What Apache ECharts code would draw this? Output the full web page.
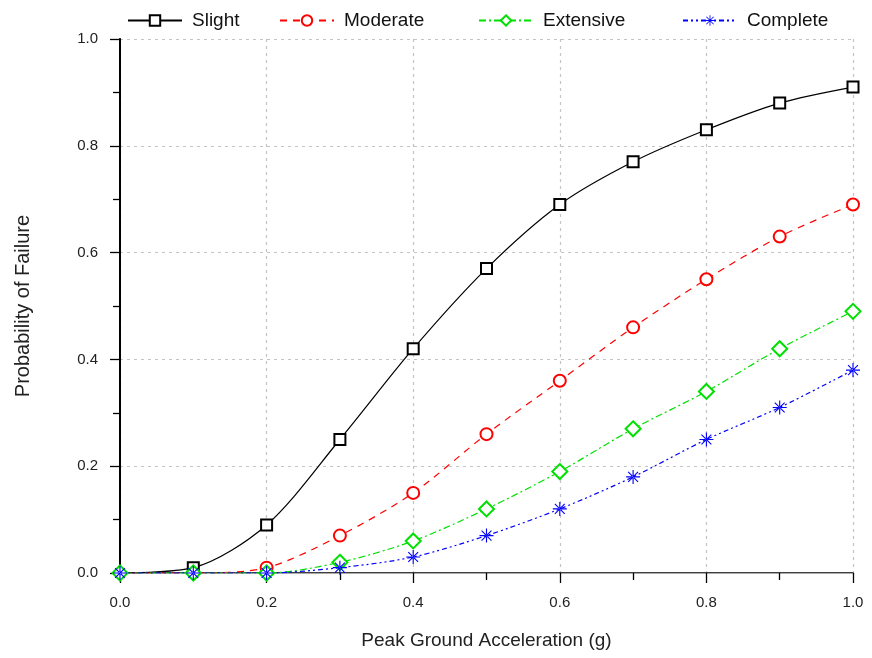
<!DOCTYPE html>
<html>
<head>
<meta charset="utf-8">
<script src="https://cdn.jsdelivr.net/npm/echarts@6/dist/echarts.min.js"></script>
<style>
html, body { margin: 0; padding: 0; background: #fff; }
#chart { width: 872px; height: 658px; }
</style>
</head>
<body>
<div id="chart"></div>
<script>
// peak ground acceleration (g)
const pga = [0.0, 0.1, 0.2, 0.3, 0.4, 0.5, 0.6, 0.7, 0.8, 0.9, 1.0];
const slight    = [0.00, 0.01, 0.09, 0.25, 0.42, 0.57, 0.69, 0.77, 0.83, 0.88, 0.91];
const moderate  = [0.00, 0.00, 0.01, 0.07, 0.15, 0.26, 0.36, 0.46, 0.55, 0.63, 0.69];
const extensive = [0.00, 0.00, 0.00, 0.02, 0.06, 0.12, 0.19, 0.27, 0.34, 0.42, 0.49];
const complete  = [0.00, 0.00, 0.00, 0.01, 0.03, 0.07, 0.12, 0.18, 0.25, 0.31, 0.38];
const names = ['Slight', 'Moderate', 'Extensive', 'Complete'];

const pairs = arr => pga.map((x, i) => [x, arr[i]]);
// markers sitting on the zero line are hidden for the upper curves
const pairsNoZeroMark = arr => pga.map((x, i) =>
  arr[i] === 0 ? { value: [x, arr[i]], symbol: 'none' } : [x, arr[i]]);

const font = 'Liberation Sans, Arial, sans-serif';
const asterisk = 'path://M-0.8,-10L0.8,-10L0.8,10L-0.8,10Z M-10,-0.8L10,-0.8L10,0.8L-10,0.8Z' +
  'M-7.6,-6.5L6.5,7.6L7.6,6.5L-6.5,-7.6Z M7.6,-6.5L-6.5,7.6L-7.6,6.5L6.5,-7.6Z';

const chart = echarts.init(document.getElementById('chart'));

const legendLeft = [122, 274, 473, 677];
const legends = names.map((n, i) => ({
  data: [n],
  left: legendLeft[i],
  top: 6,
  itemWidth: 54,
  itemHeight: 13,
  itemGap: 0,
  selectedMode: false,
  textStyle: { fontFamily: font, fontSize: 19, color: '#111', padding: [0, 0, 0, 5] }
}));

const axisCommon = {
  type: 'value', min: 0, max: 1, interval: 0.2
};

chart.setOption({
  animation: false,
  backgroundColor: '#fff',
  legend: legends,
  grid: { left: 120, right: 19, top: 39, bottom: 85 },
  xAxis: [
    Object.assign({}, axisCommon, {
      name: 'Peak Ground Acceleration (g)',
      nameLocation: 'middle',
      nameGap: 58,
      nameTextStyle: { fontFamily: font, fontSize: 19, color: '#222' },
      axisLine: { onZero: false, lineStyle: { color: '#000', width: 1.5 } },
      axisTick: { length: 10, lineStyle: { color: '#000', width: 1.3 } },
      minorTick: { show: true, splitNumber: 2, length: 7, lineStyle: { color: '#000', width: 1.3 } },
      axisLabel: { margin: 22, fontFamily: font, fontSize: 15, color: '#222',
        formatter: v => v.toFixed(1) },
      splitLine: { show: true, lineStyle: { color: '#c4c4c4', type: [3, 4], width: 1.2 } }
    }),
    Object.assign({}, axisCommon, {
      position: 'top',
      axisLine: { lineStyle: { color: '#aaa', width: 1 } },
      axisTick: { show: false },
      axisLabel: { show: false },
      splitLine: { show: false }
    })
  ],
  yAxis: [
    Object.assign({}, axisCommon, {
      name: 'Probability of Failure',
      nameLocation: 'middle',
      nameGap: 87,
      nameTextStyle: { fontFamily: font, fontSize: 20, color: '#222' },
      axisLine: { show: true, onZero: false, lineStyle: { color: '#000', width: 1.5 } },
      axisTick: { show: true, length: 10, lineStyle: { color: '#000', width: 1.3 } },
      minorTick: { show: true, splitNumber: 2, length: 7, lineStyle: { color: '#000', width: 1.3 } },
      axisLabel: { margin: 22, fontFamily: font, fontSize: 15, color: '#222',
        formatter: v => v.toFixed(1) },
      splitLine: { show: true, lineStyle: { color: '#c4c4c4', type: [3, 4], width: 1.2 } }
    }),
    Object.assign({}, axisCommon, {
      position: 'right',
      axisLine: { show: true, lineStyle: { color: '#000', width: 2 } },
      axisTick: { show: false },
      axisLabel: { show: false },
      splitLine: { show: false }
    })
  ],
  series: [
    {
      name: 'Slight', type: 'line', data: pairsNoZeroMark(slight), smooth: 0.3,
      symbol: 'emptyRect', symbolSize: 11,
      lineStyle: { color: '#000', width: 1.2, type: 'solid' },
      itemStyle: { color: '#000', borderColor: '#000', borderWidth: 1.6 }
    },
    {
      name: 'Moderate', type: 'line', data: pairsNoZeroMark(moderate), smooth: 0.3,
      symbol: 'emptyCircle', symbolSize: 12,
      lineStyle: { color: '#ff0000', width: 1.2, type: [7, 6] },
      itemStyle: { color: '#ff0000', borderColor: '#ff0000', borderWidth: 1.3 }
    },
    {
      name: 'Extensive', type: 'line', data: pairs(extensive), smooth: 0.3,
      symbol: 'emptyDiamond', symbolSize: 15,
      lineStyle: { color: '#00e000', width: 1.2, type: [7, 3, 2, 3] },
      itemStyle: { color: '#00e000', borderColor: '#00e000', borderWidth: 1.3 }
    },
    {
      name: 'Complete', type: 'line', data: pairs(complete), smooth: 0.3,
      symbol: asterisk, symbolSize: 14,
      lineStyle: { color: '#0000ff', width: 1.2, type: [5, 3, 2, 3, 2, 3] },
      itemStyle: { color: '#0000ff' }
    }
  ]
});
</script>
</body>
</html>
